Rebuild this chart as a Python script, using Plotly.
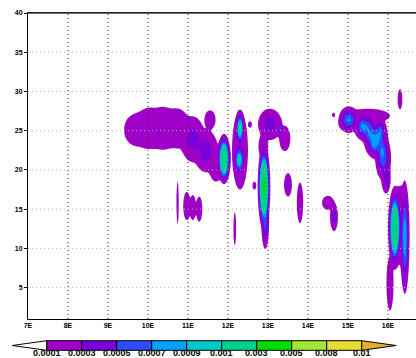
import numpy as np
import plotly.graph_objects as go

# ---- contour levels / colour key ----
levels = [0.0001, 0.0003, 0.0005, 0.0007, 0.0009, 0.001, 0.003, 0.005, 0.008, 0.01]
level_labels = ["0.0001", "0.0003", "0.0005", "0.0007", "0.0009",
                "0.001", "0.003", "0.005", "0.008", "0.01"]
fill_colors = ["#9E00C8", "#7A00DC", "#2D4BFF", "#00A0FF", "#00C8C8",
               "#00D28C", "#00DC00", "#A0E632", "#E6DC32"]
over_color = "#E6AF2D"

# ---- axes ----
x_ticks = [7, 8, 9, 10, 11, 12, 13, 14, 15, 16]
x_tick_labels = ["7E", "8E", "9E", "10E", "11E", "12E", "13E", "14E", "15E", "16E"]
y_ticks = [5, 10, 15, 20, 25, 30, 35, 40]

# ---- field cells (centre lon, centre lat, half-widths, peak) ----
blob_x = [9.70, 10.02, 10.38, 10.74, 10.28, 10.80,
          11.12, 11.45, 11.70, 11.55,
          11.90, 12.30, 12.30, 12.28, 12.55, 12.66,
          12.90, 12.93, 13.05, 13.42, 13.30, 12.88,
          13.50, 13.80, 14.50, 14.65, 14.64,
          10.74, 12.17, 10.97, 11.12, 11.28,
          14.88, 15.02, 15.45, 15.70, 15.88, 15.95, 15.50,
          15.35, 15.55, 15.80, 15.85, 15.65,
          16.17, 16.42, 16.30, 16.05, 16.30]
blob_y = [25.1, 25.3, 25.3, 25.3, 24.8, 25.0,
          23.9, 22.4, 20.7, 26.4,
          21.4, 22.5, 25.3, 21.3, 25.8, 18.0,
          17.8, 13.5, 25.8, 24.0, 25.3, 23.0,
          18.1, 15.8, 15.8, 14.0, 27.0,
          15.8, 12.5, 15.4, 15.2, 15.0,
          26.0, 26.4, 25.4, 23.8, 21.5, 19.0, 26.9,
          25.6, 24.5, 24.8, 22.5, 23.2,
          12.6, 11.4, 13.0, 5.5, 29.0]
blob_wx = [0.30, 0.32, 0.32, 0.30, 0.08, 0.07,
           0.30, 0.30, 0.18, 0.14,
           0.17, 0.20, 0.12, 0.15, 0.05, 0.05,
           0.16, 0.10, 0.30, 0.14, 0.06, 0.12,
           0.10, 0.08, 0.15, 0.10, 0.04,
           0.03, 0.035, 0.09, 0.08, 0.08,
           0.12, 0.25, 0.30, 0.30, 0.20, 0.12, 0.55,
           0.18, 0.20, 0.18, 0.16, 0.15,
           0.17, 0.12, 0.20, 0.09, 0.06]
blob_wy = [2.0, 2.6, 2.7, 2.5, 0.8, 0.6,
           2.9, 2.7, 2.2, 1.2,
           3.2, 5.0, 2.2, 2.0, 0.4, 0.5,
           5.5, 3.6, 2.0, 1.6, 1.2, 1.5,
           1.5, 2.6, 0.9, 1.8, 0.3,
           2.7, 2.1, 1.8, 1.6, 1.6,
           0.8, 1.7, 1.8, 2.4, 2.8, 2.0, 0.9,
           1.4, 1.6, 1.8, 2.0, 1.5,
           5.3, 7.2, 5.0, 3.4, 1.3]
blob_peak = [2.0e-4, 2.1e-4, 2.1e-4, 2.1e-4, 4.0e-4, 3.5e-4,
             4.0e-4, 4.0e-4, 2.8e-4, 2.5e-4,
             2.5e-3, 3.0e-4, 1.4e-3, 1.1e-3, 2.0e-4, 2.0e-4,
             3.5e-3, 6.0e-4, 4.0e-4, 2.5e-4, 6.0e-4, 3.0e-4,
             4.0e-4, 2.5e-4, 2.5e-4, 4.0e-4, 1.5e-4,
             2.0e-4, 2.0e-4, 2.2e-4, 2.2e-4, 2.2e-4,
             2.5e-4, 7.5e-4, 7.0e-4, 8.0e-4, 6.5e-4, 4.5e-4, 2.5e-4,
             6.5e-4, 7.0e-4, 6.5e-4, 6.5e-4, 6.5e-4,
             2.4e-3, 9.0e-4, 3.2e-4, 3.0e-4, 2.0e-4]

# ---- build the gridded field (soft maximum of the cells) ----
gx = np.arange(9.2, 16.72, 0.012)
gy = np.arange(1.0, 31.5, 0.08)
X, Y = np.meshgrid(gx, gy)
acc = np.zeros_like(X)
base = levels[0]
K = 3.0
for x0, y0, wx, wy, pk in zip(blob_x, blob_y, blob_wx, blob_wy, blob_peak):
    d2 = ((X - x0) / wx) ** 2 + ((Y - y0) / wy) ** 2
    acc += (pk * np.exp(np.log(base / pk) * d2)) ** K
Z = acc ** (1.0 / K)

# map irregular levels onto integer indices so plotly can contour them
idx = np.interp(Z, [0.0] + levels + [0.02], [-1] + list(range(len(levels))) + [len(levels)])
idx = np.round(idx, 3)

band_cols = ["rgba(255,255,255,0)"] + fill_colors
colorscale = []
for i, c in enumerate(band_cols):
    lo = i / 10.0
    hi = (i + 1) / 10.0 if i < 9 else 0.99
    colorscale.append([lo, c])
    colorscale.append([hi, c])
colorscale.append([0.99, over_color])
colorscale.append([1.0, over_color])

fig = go.Figure()
fig.add_trace(go.Contour(
    x=gx, y=gy, z=idx,
    zmin=-1, zmax=10,
    autocontour=False,
    contours=dict(start=0, end=9, size=1, coloring="fill", showlines=False),
    line=dict(width=0),
    colorscale=colorscale,
    showscale=False,
    hoverinfo="skip",
))

W, H = 416, 358
ML, MR, MT, MB = 28, 0, 13, 39
xr = [7, 7 + (W - ML - MR) / 40.0]
yr = [1, 40]

shapes = []
for xv in x_ticks[1:]:
    shapes.append(dict(type="line", xref="x", yref="y", x0=xv, x1=xv, y0=yr[0], y1=yr[1],
                       line=dict(color="#222222", width=1, dash="1px,3px"), layer="above"))
for yv in y_ticks[:-1]:
    shapes.append(dict(type="line", xref="x", yref="y", x0=xr[0], x1=xr[1], y0=yv, y1=yv,
                       line=dict(color="#b4b4b4", width=1, dash="1px,3px"), layer="above"))
# slightly heavier top frame, as in the original
shapes.append(dict(type="line", xref="paper", yref="paper", x0=0, x1=1, y0=1, y1=1,
                   line=dict(color="#333333", width=1.6), layer="above"))

# ---- label bar (NCL style, with triangular ends) ----
pw = W - ML - MR
ph = H - MT - MB
def px2paper_x(px):
    return (px - ML) / pw
def py2paper_y(py):
    return (H - MB - py) / ph

box_left = 46.7
box_w = 35.0
tri_len = 34.5
bar_top, bar_bot = 340.7, 350.3
yt, yb = py2paper_y(bar_top), py2paper_y(bar_bot)
ym = (yt + yb) / 2
annotations = []
for i, c in enumerate(fill_colors):
    x0 = px2paper_x(box_left + i * box_w)
    x1 = px2paper_x(box_left + (i + 1) * box_w)
    shapes.append(dict(type="rect", xref="paper", yref="paper", x0=x0, x1=x1, y0=yb, y1=yt,
                       fillcolor=c, line=dict(color="black", width=1)))
xl = px2paper_x(box_left)
xr_end = px2paper_x(box_left + len(fill_colors) * box_w)
shapes.append(dict(type="path", xref="paper", yref="paper",
                   path=f"M {xl},{yt} L {px2paper_x(box_left - tri_len)},{ym} L {xl},{yb} Z",
                   fillcolor="white", line=dict(color="black", width=1)))
shapes.append(dict(type="path", xref="paper", yref="paper",
                   path=f"M {xr_end},{yt} L {px2paper_x(box_left + len(fill_colors) * box_w + tri_len)},{ym} L {xr_end},{yb} Z",
                   fillcolor=over_color, line=dict(color="black", width=1)))
for i, lab in enumerate(level_labels):
    annotations.append(dict(xref="paper", yref="paper",
                            x=px2paper_x(box_left + i * box_w), y=yb,
                            text=lab, showarrow=False, xanchor="center", yanchor="top",
                            yshift=3, borderpad=0,
                            font=dict(family="Liberation Sans", size=9, color="black", weight="bold")))

fig.update_layout(
    width=W, height=H,
    margin=dict(l=ML, r=MR, t=MT, b=MB, pad=0, autoexpand=False),
    paper_bgcolor="white", plot_bgcolor="white",
    showlegend=False,
    shapes=shapes,
    annotations=annotations,
    xaxis=dict(range=xr, tickvals=x_ticks, ticktext=x_tick_labels, showgrid=False,
               zeroline=False, showline=True, linecolor="black", linewidth=1, mirror=True,
               automargin=False, ticks="",
               tickfont=dict(family="Liberation Sans", size=7, color="black", weight="bold")),
    yaxis=dict(range=yr, tickvals=y_ticks, showgrid=False, zeroline=False, automargin=False,
               showline=True, linecolor="black", linewidth=1, ticks="outside", ticklen=3,
               tickcolor="black", tickwidth=1,
               tickfont=dict(family="Liberation Sans", size=7, color="black", weight="bold")),
)

fig.write_html("out.html", config={"displayModeBar": False},
               post_script="document.body.style.margin='0px';document.body.style.overflow='hidden';")
